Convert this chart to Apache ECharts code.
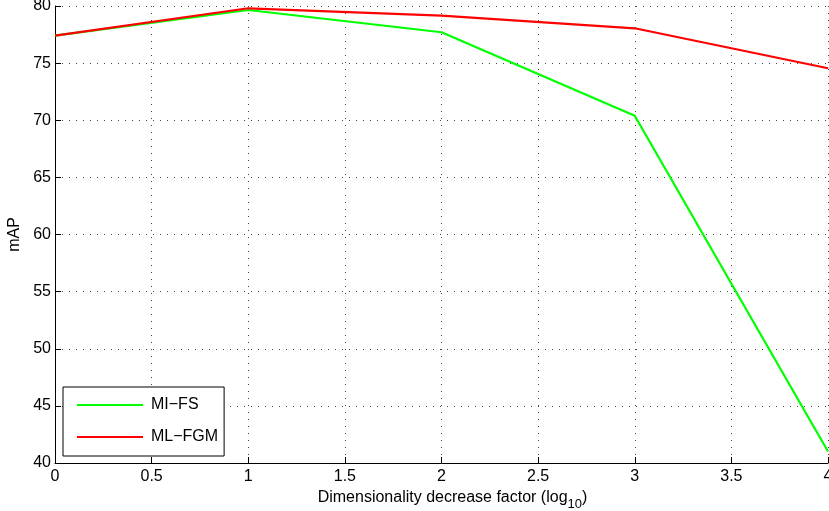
<!DOCTYPE html>
<html>
<head>
<meta charset="utf-8">
<script src="https://cdn.jsdelivr.net/npm/echarts@6/dist/echarts.min.js"></script>
<style>html,body{margin:0;padding:0;background:#fff;}#c{width:829px;height:511px;}</style>
</head>
<body>
<div id="c"></div>
<script>
const xValues = [0, 1, 2, 3, 4];
const miFs = [77.4, 79.65, 77.7, 70.4, 41.0];
const mlFgm = [77.4, 79.8, 79.15, 78.05, 74.55];
const seriesNames = ['MI\u2212FS', 'ML\u2212FGM'];

const chart = echarts.init(document.getElementById('c'), null, {renderer: 'canvas'});
const font = 'Liberation Sans, Arial, Helvetica, sans-serif';
const grid = {type: [1, 6], color: '#444', width: 1};
chart.setOption({
  animation: false,
  backgroundColor: '#fff',
  grid: {left: 55, right: 1, top: 6, bottom: 48, containLabel: false, outerBoundsMode: 'none'},
  legend: {
    orient: 'vertical',
    left: 63, top: 387,
    padding: [10, 6, 11, 13],
    itemWidth: 66, itemHeight: 14, itemGap: 16,
    borderColor: '#000', borderWidth: 1,
    backgroundColor: '#fff',
    itemStyle: {opacity: 0},
    textStyle: {fontFamily: font, fontSize: 16, color: '#000', lineHeight: 16, padding: [0, 0, 0, 3]},
    data: seriesNames
  },
  xAxis: {
    type: 'value', min: 0, max: 4, interval: 0.5,
    name: '{a|Dimensionality decrease factor (log}{s|10}{a|)}',
    nameLocation: 'middle', nameGap: 24,
    nameTextStyle: {padding: [0, 0, 0, 22], rich: {
      a: {fontFamily: font, fontSize: 16, color: '#000', verticalAlign: 'top', lineHeight: 18},
      s: {fontFamily: font, fontSize: 13, color: '#000', verticalAlign: 'top', padding: [8, 0, 0, 0], lineHeight: 18}
    }},
    axisLine: {show: true, lineStyle: {color: '#000', width: 1}},
    axisTick: {show: true, inside: true, length: 6, lineStyle: {color: '#000'}},
    axisLabel: {fontFamily: font, fontSize: 16, color: '#000', margin: 6, showMaxLabel: true},
    splitLine: {show: true, lineStyle: grid}
  },
  yAxis: {
    type: 'value', min: 40, max: 80, interval: 5,
    name: 'mAP', nameLocation: 'middle', nameGap: 30,
    nameTextStyle: {fontFamily: font, fontSize: 16, color: '#000'},
    axisLine: {show: true, lineStyle: {color: '#000', width: 1}},
    axisTick: {show: true, inside: true, length: 6, lineStyle: {color: '#000'}},
    axisLabel: {fontFamily: font, fontSize: 16, color: '#000', margin: 4},
    splitLine: {show: true, lineStyle: grid}
  },
  series: [
    {name: seriesNames[0], type: 'line', symbol: 'none', data: xValues.map((x, i) => [x, miFs[i]]),
     lineStyle: {color: '#00ff00', width: 2.2}, itemStyle: {color: '#00ff00'}, z: 3},
    {name: seriesNames[1], type: 'line', symbol: 'none', data: xValues.map((x, i) => [x, mlFgm[i]]),
     lineStyle: {color: '#ff0000', width: 2.2}, itemStyle: {color: '#ff0000'}, z: 4}
  ]
});
</script>
</body>
</html>
